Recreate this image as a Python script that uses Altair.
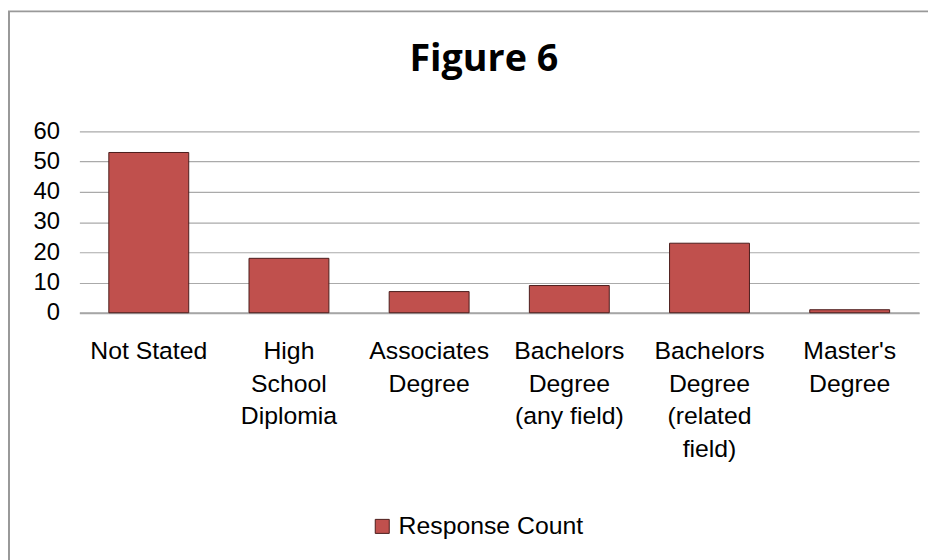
import altair as alt
import pandas as pd

categories = ["Not Stated", "High|School|Diplomia", "Associates|Degree",
              "Bachelors|Degree|(any field)", "Bachelors|Degree|(related|field)",
              "Master's|Degree"]
counts = [53, 18, 7, 9, 23, 1]
series = "Response Count"
y_ticks = [0, 10, 20, 30, 40, 50, 60]
title_text = "Figure 6"

df = pd.DataFrame({"category": categories, "count": counts, "series": [series] * len(categories)})

BAR = "#C0504D"
FONT = "Liberation Sans"

bars = alt.Chart(df).mark_bar(stroke="#4a1c1b", strokeWidth=1).encode(
    x=alt.X("category:N", sort=categories, title=None,
            scale=alt.Scale(paddingInner=0.43, paddingOuter=0.21),
            axis=alt.Axis(labelExpr="split(datum.label, '|')", labelAngle=0,
                          labelFont=FONT, labelFontSize=25, labelColor="#000000",
                          labelLineHeight=33, labelPadding=26, ticks=False,
                          domainColor="#A6A6A6", domainWidth=2, labelLimit=200)),
    y=alt.Y("count:Q", title=None,
            scale=alt.Scale(domain=[0, 60], nice=False),
            axis=alt.Axis(values=y_ticks, labelFont=FONT, labelFontSize=24,
                          labelColor="#000000", ticks=False, domain=False,
                          labelPadding=20, gridColor="#AAAAAA", gridWidth=1.2)),
    color=alt.Color("series:N", title=None,
                    scale=alt.Scale(range=[BAR]),
                    legend=alt.Legend(orient="none", legendX=293, legendY=386,
                                      symbolType="square", symbolSize=200,
                                      symbolStrokeColor="#4a1c1b", symbolStrokeWidth=1,
                                      labelFont=FONT, labelFontSize=25, labelLimit=300,
                                      labelColor="#000000", symbolOffset=0)),
)

frame = alt.Chart(pd.DataFrame({"a": [0]})).mark_rect(
    fill=None, stroke="#999999", strokeWidth=2
).encode(x=alt.value(-71), y=alt.value(-121), x2=alt.value(1100), y2=alt.value(800))

title = alt.Chart(pd.DataFrame({"t": [title_text]})).mark_text(
    font="Open Sans", fontSize=38, fontWeight="bold", color="#000000",
    align="center", baseline="alphabetic"
).encode(text="t:N", x=alt.value(408), y=alt.value(-61))

chart = alt.layer(bars, frame, title).properties(
    width=847, height=183,
    padding={"left": 72, "top": 122, "right": 9, "bottom": 247},
    autosize=alt.AutoSizeParams(type="none"),
).configure_view(stroke=None)

chart.save("out.html", embed_options={"renderer": "svg", "actions": False})
